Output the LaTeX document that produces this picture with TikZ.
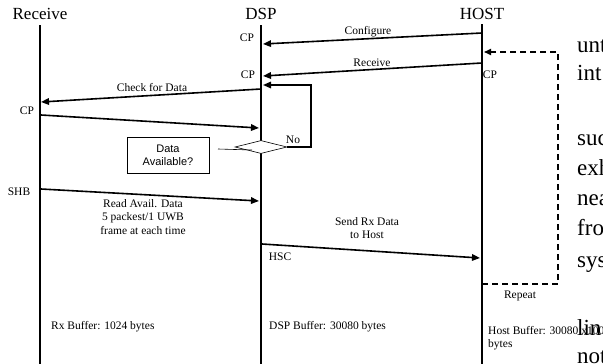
\documentclass[tikz,border=0pt]{standalone}
\usepackage{fontspec}
\setmainfont{Liberation Serif}
\newfontfamily\arialfont{Liberation Sans}
\usetikzlibrary{arrows.meta,shapes.geometric}

\begin{document}
\begin{tikzpicture}[x=1pt,y=-1pt,
  lifeline/.style={line width=1.6pt},
  msg/.style={line width=1.6pt,-{Triangle[length=8pt,width=6.5pt]}},
  lbl/.style={font=\fontsize{11.5}{13.5}\selectfont, inner sep=0pt, align=center},
  title/.style={font=\fontsize{17}{20}\selectfont, inner sep=0pt},
  bgtext/.style={font=\fontsize{23}{26}\selectfont, inner sep=0pt, anchor=base west},
]
\useasboundingbox (0,0) rectangle (603,364);

% column headings
\node[title] (tRx)   at (40,14)  {Receive};
\node[title] (tDsp)  at (261,14) {DSP};
\node[title] (tHost) at (482,14) {HOST};

% lifelines
\coordinate (rxTop)   at (40,25);  \coordinate (rxBot)   at (40,364);
\coordinate (dspTop)  at (261,25); \coordinate (dspBot)  at (261,364);
\coordinate (hostTop) at (482,24); \coordinate (hostBot) at (482,364);
\draw[lifeline] (rxTop) -- (rxBot);
\draw[lifeline] (dspTop) -- (dspBot);
\draw[lifeline] (hostTop) -- (hostBot);

% message end points
\coordinate (hCfg)  at (482,33);  \coordinate (dCfg)  at (263,44);
\coordinate (hRcv)  at (482,63);  \coordinate (dRcv)  at (263,76);
\coordinate (loopTop) at (311,85); \coordinate (dLoop) at (263,85);
\coordinate (dChk)  at (261,89);  \coordinate (rChk)  at (41,102);
\coordinate (rCp)   at (41,115);  \coordinate (dCp)   at (259,128);
\coordinate (rShb)  at (41,189);  \coordinate (dShb)  at (259,201);
\coordinate (dHsc)  at (262,244); \coordinate (hHsc)  at (480,258);
\coordinate (hRepA) at (482,284); \coordinate (repC)  at (558,52);
\coordinate (hRepB) at (484,52);
\coordinate (ptrA)  at (218,149); \coordinate (ptrB)  at (252,150);

% messages
\draw[msg] (hCfg) -- (dCfg);
\draw[msg] (hRcv) -- (dRcv);
\draw[msg] (dChk) -- (rChk);
\draw[msg] (rCp) -- (dCp);
\draw[msg] (rShb) -- (dShb);
\draw[msg] (dHsc) -- (hHsc);

% decision on the DSP lifeline
\node[diamond, draw, fill=white, line width=0.6pt, minimum width=52pt,
      minimum height=13pt, inner sep=0pt] (dia) at (261,147) {};
\draw[msg] (dia.east) -| (loopTop) -- (dLoop);
\node[draw, line width=0.6pt, minimum width=82pt, minimum height=36pt,
      inner sep=0pt, align=center,
      font=\arialfont\fontsize{11}{13}\selectfont] (qbox) at (168,155)
      {Data\\Available?};
\draw[line width=0.6pt] (ptrA) -- (ptrB);

% repeat loop
\draw[line width=1.6pt, dash pattern=on 6pt off 4pt,
      -{Triangle[length=7pt,width=6pt]}]
  (hRepA) -| (repC) -- (hRepB);

% labels
\node[lbl] (lCfg)  at (368,32)  {Configure};
\node[lbl] (lRcv)  at (372,63)  {Receive};
\node[lbl] (lChk)  at (152,88)  {Check for Data};
\node[lbl] (cp1)   at (247,38)  {CP};
\node[lbl] (cp2)   at (248,75)  {CP};
\node[lbl] (cp3)   at (490,75)  {CP};
\node[lbl] (cp4)   at (27,111)  {CP};
\node[lbl] (lNo)   at (293,140) {No};
\node[lbl] (lShb)  at (19,192)  {SHB};
\node[lbl, anchor=north] (lRead) at (143,199)
  {Read Avail. Data\\5 packest/1 UWB\\frame at each time};
\node[lbl, anchor=north] (lSend) at (367,217) {Send Rx Data\\to Host};
\node[lbl] (lHsc)  at (280,257) {HSC};
\node[lbl] (lRep)  at (520,296) {Repeat};
\node[lbl, anchor=west] (bRx)   at (51,327)  {Rx Buffer: 1024 bytes};
\node[lbl, anchor=west] (bDsp)  at (269,327) {DSP Buffer: 30080 bytes};
\node[lbl, anchor=north west, align=left] (bHost) at (488,326)
  {Host Buffer: 30080 x100\\bytes};

% surrounding page text
\node[bgtext] (w1) at (577,52)  {unt};
\node[bgtext] (w2) at (577,80)  {int};
\node[bgtext] (w3) at (577,145) {suc};
\node[bgtext] (w4) at (577,175) {exh};
\node[bgtext] (w5) at (577,205) {nea};
\node[bgtext] (w6) at (577,235) {fro};
\node[bgtext] (w7) at (577,267) {sys};
\node[bgtext] (w8) at (577,335) {lin};
\node[bgtext] (w9) at (577,363) {not};
\end{tikzpicture}
\end{document}
